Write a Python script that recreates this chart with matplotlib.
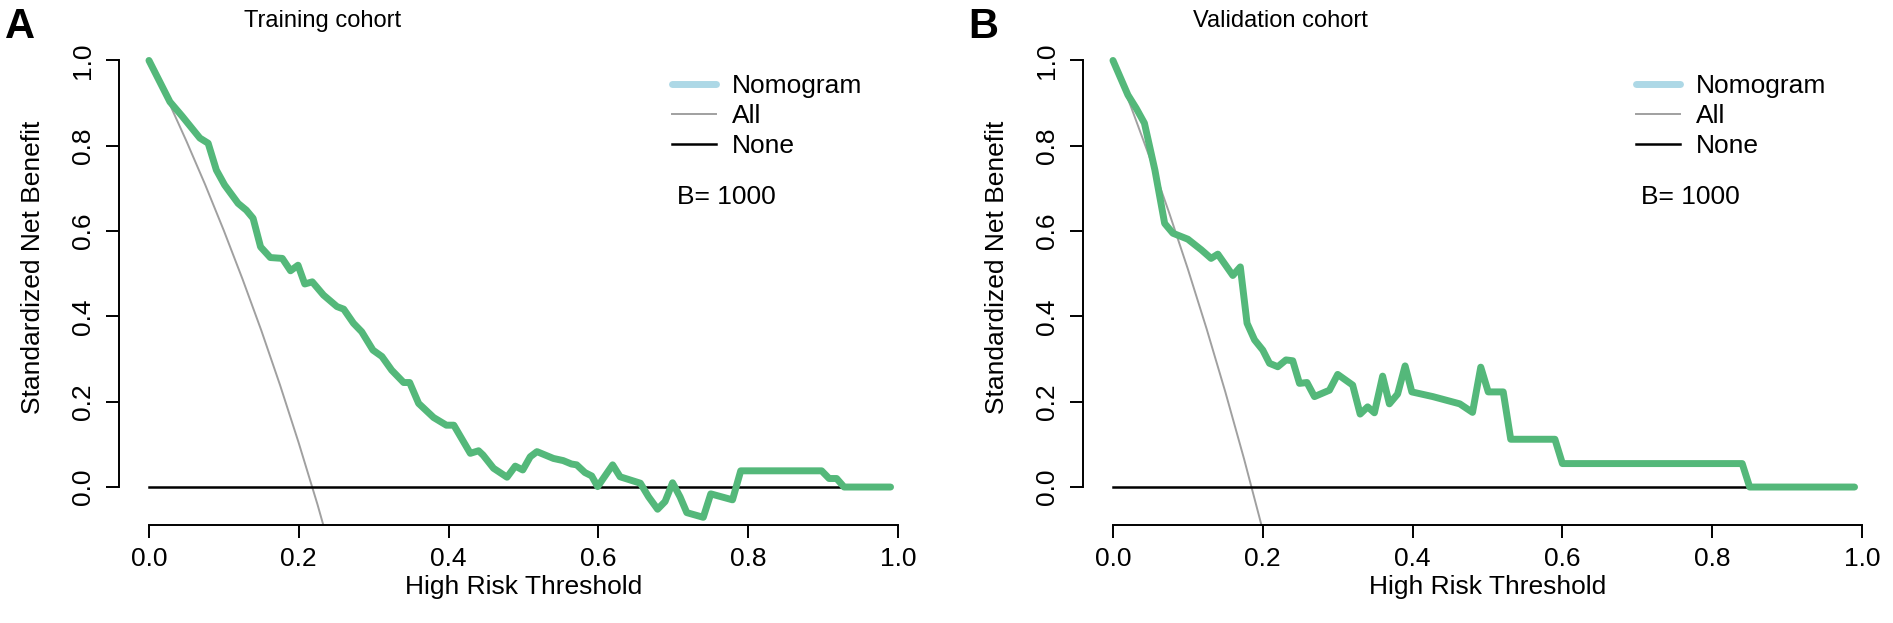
import matplotlib.pyplot as plt
from matplotlib.lines import Line2D

plt.rcParams['font.family'] = ['Liberation Sans', 'DejaVu Sans']

# training cohort, nomogram curve
train_thr = [0.0, 0.028, 0.044, 0.068, 0.079, 0.090, 0.101, 0.119, 0.130, 0.139,
             0.149, 0.162, 0.178, 0.189, 0.199, 0.208, 0.218, 0.233, 0.251, 0.260,
             0.273, 0.284, 0.299, 0.311, 0.324, 0.340, 0.348, 0.360, 0.380, 0.397,
             0.407, 0.429, 0.440, 0.446, 0.460, 0.478, 0.489, 0.499, 0.509, 0.518,
             0.540, 0.553, 0.564, 0.571, 0.582, 0.591, 0.599, 0.619, 0.629, 0.656,
             0.667, 0.679, 0.689, 0.699, 0.709, 0.718, 0.740, 0.750, 0.779, 0.790,
             0.898, 0.908, 0.918, 0.928, 0.99]
train_nb = [1.0, 0.903, 0.870, 0.818, 0.806, 0.743, 0.708, 0.665, 0.649, 0.630,
            0.563, 0.538, 0.536, 0.507, 0.520, 0.476, 0.481, 0.450, 0.423, 0.417,
            0.384, 0.364, 0.321, 0.306, 0.274, 0.245, 0.245, 0.196, 0.163, 0.145,
            0.145, 0.079, 0.085, 0.075, 0.044, 0.023, 0.049, 0.040, 0.071, 0.083,
            0.067, 0.062, 0.054, 0.052, 0.034, 0.026, 0.001, 0.052, 0.024, 0.009,
            -0.023, -0.052, -0.034, 0.010, -0.023, -0.060, -0.071, -0.016, -0.030, 0.038,
            0.038, 0.020, 0.020, 0.0, 0.0]

# validation cohort, nomogram curve
valid_thr = [0.0, 0.020, 0.031, 0.042, 0.056, 0.069, 0.080, 0.100, 0.118, 0.131,
             0.140, 0.160, 0.170, 0.179, 0.189, 0.200, 0.209, 0.220, 0.231, 0.240,
             0.249, 0.259, 0.269, 0.289, 0.300, 0.320, 0.330, 0.340, 0.349, 0.360,
             0.369, 0.380, 0.390, 0.399, 0.427, 0.463, 0.480, 0.491, 0.501, 0.521,
             0.531, 0.590, 0.600, 0.840, 0.850, 0.99]
valid_nb = [1.0, 0.919, 0.888, 0.853, 0.743, 0.618, 0.595, 0.581, 0.556, 0.536,
            0.546, 0.496, 0.516, 0.384, 0.345, 0.321, 0.290, 0.282, 0.298, 0.296,
            0.243, 0.245, 0.212, 0.227, 0.264, 0.239, 0.171, 0.188, 0.174, 0.260,
            0.195, 0.218, 0.284, 0.223, 0.212, 0.195, 0.175, 0.281, 0.223, 0.223,
            0.112, 0.112, 0.055, 0.055, 0.0, 0.0]

# "All" reference curves
all_thr_train = [0.0, 0.025, 0.05, 0.075, 0.1, 0.125, 0.15, 0.175, 0.2, 0.225, 0.25]
all_nb_train = [1.0, 0.908, 0.811, 0.709, 0.601, 0.487, 0.367, 0.239, 0.103, -0.041, -0.196]
all_thr_valid = [0.0, 0.025, 0.05, 0.075, 0.1, 0.125, 0.15, 0.175, 0.2]
all_nb_valid = [1.0, 0.887, 0.768, 0.643, 0.511, 0.371, 0.223, 0.066, -0.101]

# "None" reference
none_thr = [0.0, 0.99]
none_nb = [0.0, 0.0]

titles = ['Training cohort', 'Validation cohort']
letters = ['A', 'B']
ticks = [0.0, 0.2, 0.4, 0.6, 0.8, 1.0]

GREEN = '#54b87a'
FS = 19

W, H = 1893, 623
fig = plt.figure(figsize=(W / 100, H / 100), dpi=100)

panels = [(train_thr, train_nb, all_thr_train, all_nb_train),
          (valid_thr, valid_nb, all_thr_valid, all_nb_valid)]
lefts = [119, 1083]
title_x = [323, 1280]
letter_x = [20, 983]

for i, (thr, nb, athr, anb) in enumerate(panels):
    ax = fig.add_axes([lefts[i] / W, 1 - 525 / H, 809 / W, (525 - 43.4) / H])
    ax.plot(athr, anb, color='#a0a0a0', lw=1.4, zorder=2)
    ax.plot(none_thr, none_nb, color='black', lw=1.8, zorder=2)
    ax.plot(thr, nb, color=GREEN, lw=5, solid_joinstyle='round',
            solid_capstyle='round', zorder=3)

    ax.set_xlim(-0.04, 1.04)
    ax.set_ylim(-0.089, 1.04)
    ax.set_xticks(ticks)
    ax.set_yticks(ticks)
    ax.set_xticklabels([f'{t:.1f}' for t in ticks])
    ax.set_yticklabels([f'{t:.1f}' for t in ticks], rotation=90, va='center')
    for s in ['top', 'right']:
        ax.spines[s].set_visible(False)
    for s in ['left', 'bottom']:
        ax.spines[s].set_bounds(0, 1)
        ax.spines[s].set_linewidth(1.4)
    ax.tick_params(direction='out', length=9.5, width=1.4, labelsize=FS)
    ax.tick_params(axis='x', pad=6)
    ax.tick_params(axis='y', pad=8)

    ax.set_xlabel('High Risk Threshold', fontsize=FS, labelpad=3)
    ax.set_ylabel('Standardized Net Benefit', fontsize=FS)
    ax.yaxis.set_label_coords(-0.092, 0.536)

    ax.set_title(titles[i], fontsize=17, x=(title_x[i] - lefts[i]) / 809,
                 y=1.0465, va='center', pad=0)
    fig.text(letter_x[i] / W, 1 - 27 / H, letters[i], fontsize=30,
             fontweight='bold', ha='center', va='center')

    handles = [Line2D([], [], color='lightblue', lw=5, solid_capstyle='round'),
               Line2D([], [], color='#a0a0a0', lw=1.4),
               Line2D([], [], color='black', lw=1.8)]
    ax.legend(handles, ['Nomogram', 'All', 'None'], loc='upper left',
              bbox_to_anchor=(0.684, 0.936), frameon=False, borderpad=0,
              borderaxespad=0, handlelength=1.65, handletextpad=0.6,
              labelspacing=0.23, fontsize=FS)
    ax.text(0.690, 0.681, 'B= 1000', transform=ax.transAxes, fontsize=FS,
            ha='left', va='center')

fig.savefig('out.png', dpi=100)
